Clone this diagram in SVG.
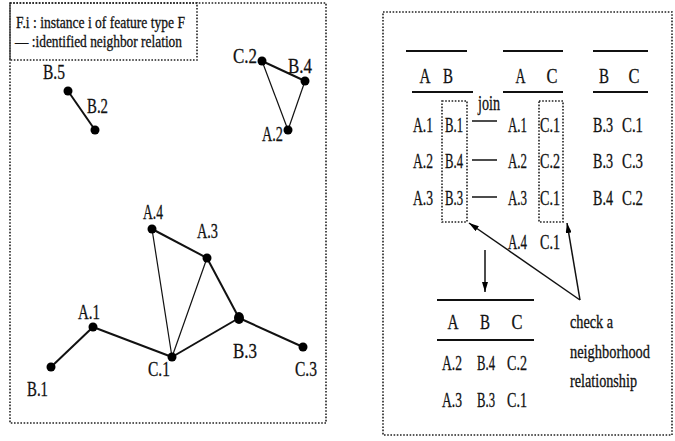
<svg xmlns="http://www.w3.org/2000/svg" width="675" height="441" viewBox="0 0 675 441">
<defs>
<style>
text{font-family:"Liberation Serif","Times New Roman",serif;fill:#111;stroke:#111;stroke-width:0.3;}
.lbl{font-size:21px;}
.cell{font-size:20px;}
.hdr{font-size:22px;}
.leg{font-size:17px;}
.note{font-size:18px;}
.frame{fill:none;stroke:#222;stroke-width:1.6;stroke-dasharray:1.6 1.6;}
.edge{stroke:#111;stroke-width:2;fill:none;}
.thin{stroke:#111;stroke-width:1.2;fill:none;}
.rule{stroke:#111;stroke-width:2;}
.dot{fill:#000;}
.arr{stroke:#111;stroke-width:1.5;fill:none;}
</style>
<marker id="ah" viewBox="0 0 10 6" refX="10" refY="3" markerWidth="10" markerHeight="6" markerUnits="userSpaceOnUse" orient="auto">
<path d="M0,0 L10,3 L0,6 Z" fill="#000"/>
</marker>
</defs>
<rect width="675" height="441" fill="#fff"/>

<!-- left panel -->
<rect class="frame" x="10" y="3" width="316" height="420"/>
<g id="legend">
<rect class="frame" x="10" y="3" width="187" height="57"/>
<text class="leg" x="16" y="28" textLength="169" lengthAdjust="spacingAndGlyphs">F.i : instance i of feature type F</text>
<text class="leg" x="15" y="47" textLength="167" lengthAdjust="spacingAndGlyphs">— :identified neighbor relation</text>
</g>

<g id="connectors">
<line class="edge" x1="68" y1="91" x2="95" y2="130"/>
<line class="edge" x1="262" y1="61" x2="305" y2="81"/>
<line class="thin" x1="262" y1="61" x2="288" y2="130"/>
<line class="thin" x1="305" y1="81" x2="288" y2="130"/>
<line class="edge" x1="152" y1="229" x2="207" y2="258"/>
<line class="thin" x1="152" y1="229" x2="172" y2="357"/>
<line class="thin" x1="207" y1="258" x2="172" y2="357"/>
<line class="edge" x1="207" y1="258" x2="239" y2="318"/>
<line class="edge" x1="239" y1="318" x2="303" y2="347"/>
<line class="edge" x1="239" y1="318" x2="172" y2="357"/>
<line class="edge" x1="172" y1="357" x2="93" y2="327"/>
<line class="edge" x1="93" y1="327" x2="51" y2="367"/>
<line class="arr" x1="580" y1="300" x2="469" y2="223" marker-end="url(#ah)"/>
<line class="arr" x1="580" y1="300" x2="567" y2="223" marker-end="url(#ah)"/>
<line class="arr" x1="485" y1="250" x2="485" y2="292" marker-end="url(#ah)"/>
</g>

<g id="B5"><circle class="dot" cx="68" cy="91" r="4.5"/><text class="lbl" x="43" y="79" textLength="22" lengthAdjust="spacingAndGlyphs">B.5</text></g>
<g id="B2"><circle class="dot" cx="95" cy="130" r="4.5"/><text class="lbl" x="87" y="113" textLength="21" lengthAdjust="spacingAndGlyphs">B.2</text></g>
<g id="C2"><circle class="dot" cx="262" cy="61" r="4.5"/><text class="lbl" x="233" y="63" textLength="24" lengthAdjust="spacingAndGlyphs">C.2</text></g>
<g id="B4"><circle class="dot" cx="305" cy="81" r="4.5"/><text class="lbl" x="288" y="73" textLength="24" lengthAdjust="spacingAndGlyphs">B.4</text></g>
<g id="A2"><circle class="dot" cx="288" cy="130" r="4.5"/><text class="lbl" x="262" y="141" textLength="21" lengthAdjust="spacingAndGlyphs">A.2</text></g>
<g id="A4"><circle class="dot" cx="152" cy="229" r="4.5"/><text class="lbl" x="143" y="219" textLength="20" lengthAdjust="spacingAndGlyphs">A.4</text></g>
<g id="A3"><circle class="dot" cx="207" cy="258" r="4.5"/><text class="lbl" x="197" y="238" textLength="21" lengthAdjust="spacingAndGlyphs">A.3</text></g>
<g id="B3"><ellipse class="dot" cx="239" cy="318" rx="5" ry="6"/><text class="lbl" x="233" y="358" textLength="24" lengthAdjust="spacingAndGlyphs">B.3</text></g>
<g id="C3"><circle class="dot" cx="303" cy="347" r="4.5"/><text class="lbl" x="295" y="376" textLength="22" lengthAdjust="spacingAndGlyphs">C.3</text></g>
<g id="C1"><circle class="dot" cx="172" cy="357" r="4.5"/><text class="lbl" x="148" y="376" textLength="22" lengthAdjust="spacingAndGlyphs">C.1</text></g>
<g id="A1"><circle class="dot" cx="93" cy="327" r="4.5"/><text class="lbl" x="78" y="319" textLength="22" lengthAdjust="spacingAndGlyphs">A.1</text></g>
<g id="B1"><circle class="dot" cx="51" cy="367" r="4.5"/><text class="lbl" x="27" y="396" textLength="21" lengthAdjust="spacingAndGlyphs">B.1</text></g>

<!-- right panel -->
<rect class="frame" x="383" y="12" width="289" height="423"/>

<g id="tableAB">
<line class="rule" x1="406" y1="51" x2="467" y2="51"/>
<text class="hdr" x="425" y="83" text-anchor="middle" textLength="11" lengthAdjust="spacingAndGlyphs">A</text>
<text class="hdr" x="448" y="83" text-anchor="middle" textLength="10" lengthAdjust="spacingAndGlyphs">B</text>
<line class="rule" x1="412" y1="92" x2="473" y2="92"/>
<text class="cell" x="413" y="132" textLength="20" lengthAdjust="spacingAndGlyphs">A.1</text>
<text class="cell" x="445" y="132" textLength="18" lengthAdjust="spacingAndGlyphs">B.1</text>
<text class="cell" x="413" y="168" textLength="20" lengthAdjust="spacingAndGlyphs">A.2</text>
<text class="cell" x="445" y="168" textLength="18" lengthAdjust="spacingAndGlyphs">B.4</text>
<text class="cell" x="413" y="205" textLength="20" lengthAdjust="spacingAndGlyphs">A.3</text>
<text class="cell" x="445" y="205" textLength="18" lengthAdjust="spacingAndGlyphs">B.3</text>
<rect class="frame" x="442" y="101" width="25" height="121"/>
</g>

<g id="join">
<text class="cell" x="478" y="110" textLength="22" lengthAdjust="spacingAndGlyphs">join</text>
<line class="arr" x1="472" y1="121" x2="497" y2="121"/>
<line class="arr" x1="472" y1="160" x2="497" y2="160"/>
<line class="arr" x1="472" y1="197" x2="497" y2="197"/>
</g>

<g id="tableAC">
<line class="rule" x1="503" y1="51" x2="563" y2="51"/>
<text class="hdr" x="520.5" y="83" text-anchor="middle" textLength="10" lengthAdjust="spacingAndGlyphs">A</text>
<text class="hdr" x="552" y="83" text-anchor="middle" textLength="11" lengthAdjust="spacingAndGlyphs">C</text>
<line class="rule" x1="503" y1="92" x2="563" y2="92"/>
<text class="cell" x="508" y="132" textLength="19" lengthAdjust="spacingAndGlyphs">A.1</text>
<text class="cell" x="540" y="132" textLength="20" lengthAdjust="spacingAndGlyphs">C.1</text>
<text class="cell" x="508" y="168" textLength="19" lengthAdjust="spacingAndGlyphs">A.2</text>
<text class="cell" x="540" y="168" textLength="20" lengthAdjust="spacingAndGlyphs">C.2</text>
<text class="cell" x="508" y="205" textLength="19" lengthAdjust="spacingAndGlyphs">A.3</text>
<text class="cell" x="540" y="205" textLength="20" lengthAdjust="spacingAndGlyphs">C.1</text>
<text class="cell" x="508" y="249" textLength="19" lengthAdjust="spacingAndGlyphs">A.4</text>
<text class="cell" x="540" y="249" textLength="20" lengthAdjust="spacingAndGlyphs">C.1</text>
<rect class="frame" x="539" y="101" width="24" height="121"/>
</g>

<g id="tableBC">
<line class="rule" x1="593" y1="51" x2="648" y2="51"/>
<text class="hdr" x="604" y="83" text-anchor="middle" textLength="10" lengthAdjust="spacingAndGlyphs">B</text>
<text class="hdr" x="634" y="83" text-anchor="middle" textLength="11" lengthAdjust="spacingAndGlyphs">C</text>
<line class="rule" x1="593" y1="92" x2="648" y2="92"/>
<text class="cell" x="593" y="132" textLength="20" lengthAdjust="spacingAndGlyphs">B.3</text>
<text class="cell" x="622" y="132" textLength="21" lengthAdjust="spacingAndGlyphs">C.1</text>
<text class="cell" x="593" y="168" textLength="20" lengthAdjust="spacingAndGlyphs">B.3</text>
<text class="cell" x="622" y="168" textLength="21" lengthAdjust="spacingAndGlyphs">C.3</text>
<text class="cell" x="593" y="205" textLength="20" lengthAdjust="spacingAndGlyphs">B.4</text>
<text class="cell" x="622" y="205" textLength="21" lengthAdjust="spacingAndGlyphs">C.2</text>
</g>

<g id="tableABC">
<line class="rule" x1="437" y1="300" x2="534" y2="300"/>
<text class="hdr" x="453" y="329" text-anchor="middle" textLength="11" lengthAdjust="spacingAndGlyphs">A</text>
<text class="hdr" x="485" y="329" text-anchor="middle" textLength="10" lengthAdjust="spacingAndGlyphs">B</text>
<text class="hdr" x="517" y="329" text-anchor="middle" textLength="11" lengthAdjust="spacingAndGlyphs">C</text>
<line class="rule" x1="437" y1="340" x2="534" y2="340"/>
<text class="cell" x="442" y="370" textLength="20" lengthAdjust="spacingAndGlyphs">A.2</text>
<text class="cell" x="477" y="370" textLength="18" lengthAdjust="spacingAndGlyphs">B.4</text>
<text class="cell" x="507" y="370" textLength="20" lengthAdjust="spacingAndGlyphs">C.2</text>
<text class="cell" x="442" y="407" textLength="20" lengthAdjust="spacingAndGlyphs">A.3</text>
<text class="cell" x="477" y="407" textLength="18" lengthAdjust="spacingAndGlyphs">B.3</text>
<text class="cell" x="507" y="407" textLength="20" lengthAdjust="spacingAndGlyphs">C.1</text>
</g>

<g id="note">
<text class="note" x="570" y="328" textLength="43" lengthAdjust="spacingAndGlyphs">check a</text>
<text class="note" x="570" y="358" textLength="80" lengthAdjust="spacingAndGlyphs">neighborhood</text>
<text class="note" x="570" y="387" textLength="67" lengthAdjust="spacingAndGlyphs">relationship</text>
</g>
</svg>
